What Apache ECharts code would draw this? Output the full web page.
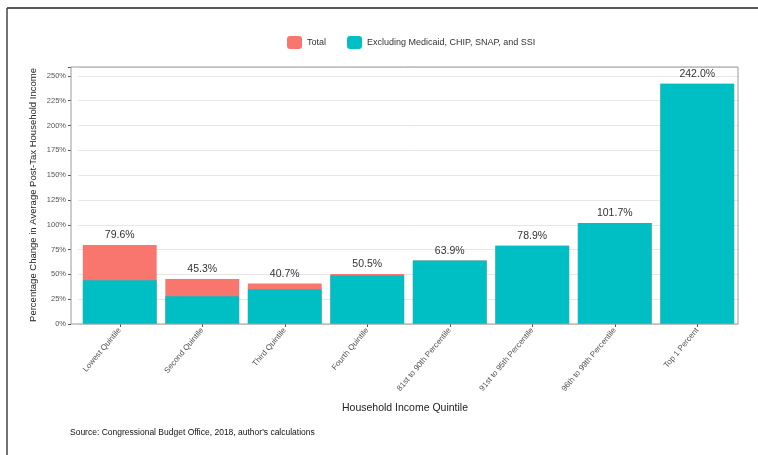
<!DOCTYPE html>
<html>
<head>
<meta charset="utf-8">
<script src="https://cdn.jsdelivr.net/npm/echarts@6/dist/echarts.min.js"></script>
<style>
html,body{margin:0;padding:0;background:#fff;}
#chart{width:758px;height:455px;}
</style>
</head>
<body>
<div id="chart"></div>
<script>
const categories = ["Lowest Quintile", "Second Quintile", "Third Quintile", "Fourth Quintile",
  "81st to 90th Percentile", "91st to 95th Percentile", "96th to 99th Percentile", "Top 1 Percent"];
const totalValues = [79.6, 45.3, 40.7, 50.5, 63.9, 78.9, 101.7, 242.0];
const excludingValues = [44.0, 28.0, 35.0, 49.0, 63.9, 78.9, 101.7, 242.0];
const yTicks = [0, 25, 50, 75, 100, 125, 150, 175, 200, 225, 250];

const FONT = '"Liberation Sans", Arial, sans-serif';
const chart = echarts.init(document.getElementById('chart'), null, {renderer: 'canvas'});
chart.setOption({
  animation: false,
  backgroundColor: '#fff',
  textStyle: {fontFamily: FONT},
  legend: {
    top: 31,
    left: 282,
    itemWidth: 15,
    itemHeight: 13,
    itemGap: 21,
    textStyle: {fontSize: 9, color: '#333', fontFamily: FONT},
    data: ['Total', 'Excluding Medicaid, CHIP, SNAP, and SSI']
  },
  grid: {left: 78.5, right: 19.5, top: 67, bottom: 131, show: false, containLabel: false},
  xAxis: {
    type: 'category',
    data: categories,
    axisLine: {show: false},
    axisTick: {show: true, alignWithLabel: true, length: 3, lineStyle: {color: '#555'}},
    axisLabel: {rotate: 50, fontSize: 8, color: '#555', margin: 5, interval: 0, fontFamily: FONT}
  },
  yAxis: {
    type: 'value',
    min: 0,
    max: 259,
    interval: 25,
    offset: 7.5,
    axisLine: {show: false},
    axisTick: {show: true, length: 3, lineStyle: {color: '#555'}},
    axisLabel: {fontSize: 7.5, color: '#555', margin: 5, fontFamily: FONT,
      formatter: v => (yTicks.indexOf(v) >= 0 ? v + '%' : '')},
    splitLine: {lineStyle: {color: '#e6e6e6', width: 1}}
  },
  series: [
    {
      name: 'Total',
      type: 'bar',
      data: totalValues,
      barCategoryGap: '10.5%',
      itemStyle: {color: '#F8766D'},
      label: {show: true, position: 'top', distance: 4, fontSize: 10.5, color: '#333', fontFamily: FONT,
        formatter: p => p.value.toFixed(1) + '%'},
      z: 2
    },
    {
      name: 'Excluding Medicaid, CHIP, SNAP, and SSI',
      type: 'bar',
      data: excludingValues,
      barGap: '-100%',
      barCategoryGap: '10.5%',
      itemStyle: {color: '#00BFC4'},
      z: 3
    }
  ],
  graphic: [
    {type: 'rect', shape: {x: 71, y: 67, width: 667, height: 257}, style: {fill: null, stroke: '#9a9a9a', lineWidth: 1}, z: 10, silent: true},
    {type: 'line', shape: {x1: 7, y1: 8, x2: 758, y2: 8}, style: {stroke: '#222', lineWidth: 1.5}},
    {type: 'line', shape: {x1: 7, y1: 8, x2: 7, y2: 455}, style: {stroke: '#444', lineWidth: 1.5}},
    {type: 'text', x: 405, y: 408, style: {text: 'Household Income Quintile', font: '10.5px ' + FONT, fill: '#222', align: 'center', verticalAlign: 'middle'}},
    {type: 'text', x: 70, y: 433, style: {text: "Source: Congressional Budget Office, 2018, author's calculations", font: '8.5px ' + FONT, fill: '#111', verticalAlign: 'middle'}},
    {type: 'text', x: 33, y: 195, rotation: Math.PI / 2,
      style: {text: 'Percentage Change in Average Post-Tax Household Income', font: '9.5px ' + FONT, fill: '#222', align: 'center', verticalAlign: 'middle'}}
  ]
});
</script>
</body>
</html>
